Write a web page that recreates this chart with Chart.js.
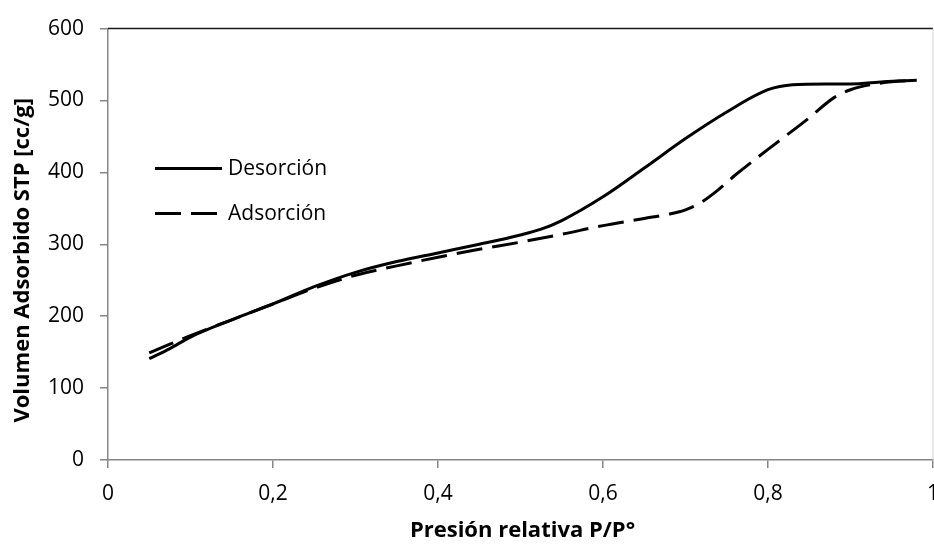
<!DOCTYPE html>
<html lang="es">
<head>
<meta charset="utf-8">
<title>Isoterma</title>
<script src="https://cdn.jsdelivr.net/npm/chart.js@4.4.1/dist/chart.umd.min.js"></script>
<style>
    html, body { margin: 0; padding: 0; background: #fff; }
    #marco { width: 934px; height: 547px; overflow: hidden; }
</style>
</head>
<body>
<div id="marco">
    <canvas id="graficoIsoterma" width="960" height="547"></canvas>
</div>
<script>
// Rama de desorción (línea continua)
const presionDesorcion = [0.05, 0.075, 0.1, 0.15, 0.2, 0.25, 0.3, 0.35, 0.4, 0.45, 0.5, 0.525, 0.55, 0.6, 0.65, 0.7, 0.75, 0.8, 0.83, 0.87, 0.9, 0.94, 0.98];
const volumenDesorcion = [141, 155, 171, 195, 217, 241, 261, 276, 288, 300, 313, 321, 333, 366, 406, 447, 484, 515, 522, 523, 523, 526, 528];

// Rama de adsorción (línea discontinua)
const presionAdsorcion = [0.05, 0.075, 0.1, 0.15, 0.2, 0.25, 0.3, 0.35, 0.4, 0.45, 0.5, 0.55, 0.6, 0.65, 0.68, 0.7, 0.72, 0.74, 0.76, 0.8, 0.85, 0.88, 0.9, 0.93, 0.96, 0.98];
const volumenAdsorcion = [149, 161, 173, 195, 217, 239, 257, 270, 282, 293, 303, 314, 326, 336, 342, 348, 359, 376, 396, 432, 476, 504, 515, 523, 527, 528];

const ticksX = [0, 0.2, 0.4, 0.6, 0.8, 1];
const ticksY = [0, 100, 200, 300, 400, 500, 600];

const tituloX = 'Presión relativa P/P°';
const tituloY = 'Volumen Adsorbido STP [cc/g]';

function aPuntos(xs, ys) {
    return xs.map((x, i) => ({ x: x, y: ys[i] }));
}

document.addEventListener('DOMContentLoaded', () => {
    const ctx = document.getElementById('graficoIsoterma');
    const fuente = '"Open Sans", "DejaVu Sans", sans-serif';
    const grisEje = '#868686';

    // títulos de ejes y leyenda dentro del área, dibujados a mano
    const extras = {
        id: 'extras',
        afterDraw(chart) {
            const c = chart.ctx;
            const a = chart.chartArea;
            c.save();

            // borde superior del área
            c.strokeStyle = '#1a1a1a';
            c.lineWidth = 1.5;
            c.beginPath();
            c.moveTo(a.left, a.top);
            c.lineTo(a.right, a.top);
            c.stroke();
            c.strokeStyle = '#d0d0d0';
            c.lineWidth = 1;
            c.beginPath();
            c.moveTo(a.right, a.top);
            c.lineTo(a.right, a.bottom);
            c.stroke();

            c.fillStyle = '#000';
            c.font = 'bold 22px ' + fuente;
            c.textAlign = 'center';
            c.textBaseline = 'middle';
            c.fillText(tituloX, (a.left + a.right) / 2 + 2, 531);

            c.translate(23, (a.top + a.bottom) / 2 + 16);
            c.rotate(-Math.PI / 2);
            c.fillText(tituloY, 0, 0);
            c.setTransform(1, 0, 0, 1, 0, 0);

            c.font = '21px ' + fuente;
            c.textAlign = 'left';
            chart.data.datasets.forEach((ds, i) => {
                const y = a.top + 140 + i * 45;
                c.strokeStyle = ds.borderColor;
                c.lineWidth = ds.borderWidth;
                c.setLineDash(ds.borderDash || []);
                c.beginPath();
                c.moveTo(a.left + 47, y);
                c.lineTo(a.left + 114, y);
                c.stroke();
                c.setLineDash([]);
                c.fillText(ds.label, a.left + 120, y);
            });
            c.restore();
        }
    };

    new Chart(ctx, {
        type: 'line',
        data: {
            datasets: [{
                label: 'Desorción',
                data: aPuntos(presionDesorcion, volumenDesorcion),
                borderColor: '#000',
                borderWidth: 3,
                pointRadius: 0,
                cubicInterpolationMode: 'monotone',
                fill: false
            }, {
                label: 'Adsorción',
                data: aPuntos(presionAdsorcion, volumenAdsorcion),
                borderColor: '#000',
                borderWidth: 3,
                borderDash: [26, 10],
                pointRadius: 0,
                cubicInterpolationMode: 'monotone',
                fill: false
            }]
        },
        options: {
            responsive: false,
            animation: false,
            layout: { padding: { left: 0, top: 23, right: 27, bottom: 0 } },
            plugins: {
                legend: { display: false },
                tooltip: { enabled: false }
            },
            scales: {
                x: {
                    type: 'linear',
                    min: 0,
                    max: 1,
                    afterBuildTicks: (scale) => { scale.ticks = ticksX.map(v => ({ value: v })); },
                    afterFit: (scale) => { scale.height = 87; },
                    border: { color: grisEje, width: 1.5 },
                    grid: { drawOnChartArea: false, drawTicks: true, tickLength: 8, color: grisEje, lineWidth: 1.5 },
                    ticks: {
                        color: '#000',
                        padding: 13,
                        maxRotation: 0,
                        font: { family: fuente, size: 21 },
                        callback: (v) => String(v).replace('.', ',')
                    }
                },
                y: {
                    min: 0,
                    max: 600,
                    afterBuildTicks: (scale) => { scale.ticks = ticksY.map(v => ({ value: v })); },
                    afterFit: (scale) => { scale.width = 108; },
                    border: { color: grisEje, width: 1.5 },
                    grid: { drawOnChartArea: false, drawTicks: true, tickLength: 8, color: grisEje, lineWidth: 1.5 },
                    ticks: {
                        color: '#000',
                        padding: 16,
                        font: { family: fuente, size: 21 }
                    }
                }
            }
        },
        plugins: [extras]
    });
});
</script>
</body>
</html>
